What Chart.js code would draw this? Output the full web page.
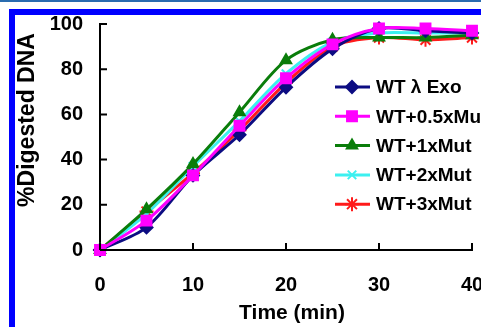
<!DOCTYPE html>
<html>
<head>
<meta charset="utf-8">
<script src="https://cdn.jsdelivr.net/npm/chart.js@4"></script>
<style>
  html, body { margin: 0; padding: 0; background: #fff; }
  #wrap { width: 481px; height: 327px; }
</style>
</head>
<body>
<div id="wrap"><canvas id="digestChart" width="481" height="327"></canvas></div>
<script>
const times = [0, 5, 10, 15, 20, 25, 30, 35, 40];
const wtExo = [0, 10, 33, 51, 72, 89, 98, 97, 96];
const wtHalfMut = [0, 13, 33, 55, 76, 91, 98, 98, 97];
const wtOneMut = [0, 18, 38, 61, 84, 93, 94, 94, 95];
const wtTwoMut = [0, 16, 37, 57, 78, 92, 96, 96, 96];
const wtThreeMut = [0, 17, 34, 53, 74, 90, 94, 93, 94];
const seriesNames = ['WT \u03BB Exo', 'WT+0.5xMut', 'WT+1xMut', 'WT+2xMut', 'WT+3xMut'];
const xTicks = [0, 10, 20, 30, 40];
const yTicks = [0, 20, 40, 60, 80, 100];

const FONT = "'Liberation Sans', Arial, sans-serif";

const makeSet = (label, values, color, style, radius, order) => ({
  label,
  data: times.map((t, i) => ({ x: t, y: values[i] })),
  borderColor: color,
  backgroundColor: color,
  pointBackgroundColor: color,
  pointBorderColor: color,
  pointStyle: style,
  pointRadius: radius,
  pointBorderWidth: 2,
  borderWidth: 3,
  tension: 0.3,
  clip: false,
  order,
});

// frame, inward ticks, axis titles, legend box
const decorations = {
  id: 'decorations',
  beforeDraw(chart) {
    const ctx = chart.ctx;
    ctx.save();
    ctx.fillStyle = '#fff';
    ctx.fillRect(0, 0, chart.width, chart.height);
    ctx.fillStyle = '#2a6cb0';
    ctx.fillRect(0, 0, chart.width, 2);
    ctx.fillStyle = '#0000ff';
    ctx.fillRect(9, 9, chart.width - 9, 6);
    ctx.fillRect(9, 9, 6, chart.height - 9);
    ctx.restore();
  },
  afterDatasetsDraw(chart) {
    const ctx = chart.ctx;
    const x = chart.scales.x, y = chart.scales.y;
    const area = chart.chartArea;
    ctx.save();
    ctx.strokeStyle = '#000';
    ctx.lineWidth = 2;
    ctx.beginPath();
    xTicks.forEach(v => {
      const px = x.getPixelForValue(v);
      ctx.moveTo(px, area.bottom);
      ctx.lineTo(px, area.bottom - 7);
    });
    yTicks.forEach(v => {
      const py = y.getPixelForValue(v);
      ctx.moveTo(area.left, py);
      ctx.lineTo(area.left + 7, py);
    });
    ctx.stroke();

    ctx.fillStyle = '#000';
    ctx.font = 'bold 21px ' + FONT;
    ctx.textAlign = 'center';
    ctx.textBaseline = 'middle';
    ctx.fillText('Time (min)', 292, 313);

    ctx.translate(28, 120);
    ctx.rotate(-Math.PI / 2);
    ctx.font = 'bold 23px ' + FONT;
    ctx.fillText('%Digested DNA', 0, 0);
    ctx.restore();
  },
  afterDraw(chart) {
    const ctx = chart.ctx;
    ctx.save();
    ctx.fillStyle = '#fff';
    ctx.fillRect(330, 74, 151, 146);
    chart.data.datasets.forEach((ds, i) => {
      const ly = 87 + i * 29.3;
      ctx.strokeStyle = ds.borderColor;
      ctx.lineWidth = 3;
      ctx.beginPath();
      ctx.moveTo(335, ly);
      ctx.lineTo(370, ly);
      ctx.stroke();
      ctx.fillStyle = ds.backgroundColor;
      ctx.lineWidth = 2;
      Chart.helpers.drawPoint(ctx, { pointStyle: ds.pointStyle, radius: ds.pointRadius, rotation: 0, borderWidth: 2 }, 352, ly);
      ctx.fillStyle = '#000';
      ctx.font = 'bold 19px ' + FONT;
      ctx.textAlign = 'left';
      ctx.textBaseline = 'middle';
      ctx.fillText(ds.label, 376, ly + 1);
    });
    ctx.restore();
  }
};

new Chart(document.getElementById('digestChart').getContext('2d'), {
  type: 'line',
  data: {
    datasets: [
      makeSet(seriesNames[0], wtExo, '#0c0c82', 'rectRot', 6, 1),
      makeSet(seriesNames[1], wtHalfMut, '#ff00ff', 'rect', 7, 0),
      makeSet(seriesNames[2], wtOneMut, '#0a7d0a', 'triangle', 6, 2),
      makeSet(seriesNames[3], wtTwoMut, '#3cf0f0', 'crossRot', 6, 3),
      makeSet(seriesNames[4], wtThreeMut, '#ff1a1a', 'star', 7, 4),
    ],
  },
  options: {
    responsive: false,
    animation: false,
    layout: { padding: { top: 24, right: 9, left: 0, bottom: 0 } },
    plugins: { legend: { display: false }, tooltip: { enabled: false } },
    scales: {
      x: {
        type: 'linear',
        min: 0,
        max: 40,
        afterBuildTicks: (scale) => { scale.ticks = xTicks.map(v => ({ value: v })); },
        afterFit: (scale) => { scale.height = 77; scale.paddingLeft = 0; scale.paddingRight = 0; },
        grid: { display: false, drawTicks: false },
        border: { display: true, color: '#000', width: 2 },
        ticks: { color: '#000', padding: 23, maxRotation: 0, font: { family: FONT, size: 20, weight: 'bold' } },
      },
      y: {
        min: 0,
        max: 100,
        afterBuildTicks: (scale) => { scale.ticks = yTicks.map(v => ({ value: v })); },
        afterFit: (scale) => { scale.width = 100; scale.paddingTop = 0; scale.paddingBottom = 0; },
        grid: { display: false, drawTicks: false },
        border: { display: true, color: '#000', width: 2 },
        ticks: { color: '#000', padding: 17, font: { family: FONT, size: 20, weight: 'bold' } },
      },
    },
  },
  plugins: [decorations],
});
</script>
</body>
</html>
